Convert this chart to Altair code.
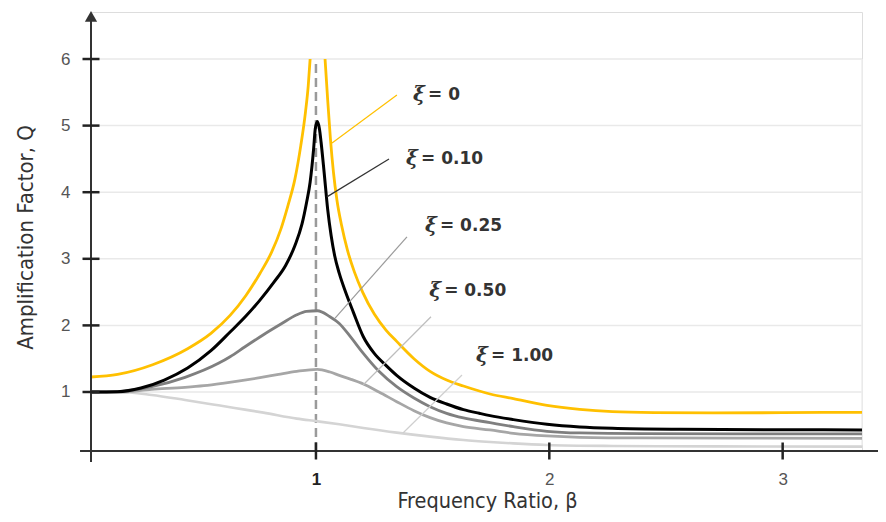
import altair as alt
import pandas as pd

# ---------------- scale limits (where the drawn axes sit) ----------------
X_MIN, X_MAX = 0.036, 3.34
Y_MIN, Y_MAX = 0.114, 6.706

# ---------------- data ----------------
series = ["ξ = 0", "ξ = 0.10", "ξ = 0.25", "ξ = 0.50", "ξ = 1.00"]
label_values = ["= 0", "= 0.10", "= 0.25", "= 0.50", "= 1.00"]

beta_xi0_left = [0.036, 0.15, 0.30, 0.45, 0.55, 0.632, 0.70, 0.76, 0.81, 0.85, 0.88, 0.91, 0.935, 0.955,
                 0.967, 0.975]
q_xi0_left = [1.225, 1.265, 1.41, 1.65, 1.88, 2.15, 2.45, 2.78, 3.1, 3.45, 3.8, 4.2, 4.7, 5.2,
              5.6, 6.0]
beta_xi0_right = [1.039, 1.05, 1.062, 1.075, 1.09, 1.11, 1.135, 1.165, 1.20, 1.25, 1.30, 1.346, 1.42,
                  1.489, 1.56, 1.632, 1.70, 1.746, 1.846, 1.99, 2.13, 2.27, 2.45, 2.7, 3.0, 3.34]
q_xi0_right = [6.0, 5.4, 4.8, 4.3, 3.88, 3.5, 3.13, 2.8, 2.5, 2.17, 1.93, 1.76, 1.50,
               1.31, 1.18, 1.09, 1.015, 0.97, 0.9, 0.8, 0.74, 0.705, 0.69, 0.685, 0.69, 0.695]

beta_xi010 = [0.036, 0.15, 0.25, 0.35, 0.45, 0.55, 0.632, 0.70, 0.76, 0.82, 0.87, 0.91, 0.94, 0.96,
              0.975, 0.99, 0.997, 1.006, 1.015, 1.022, 1.035, 1.05, 1.065, 1.08, 1.10, 1.125, 1.16,
              1.203, 1.25, 1.30, 1.346, 1.42, 1.489, 1.56, 1.632, 1.70, 1.746, 1.846, 1.99, 2.13,
              2.27, 2.56, 3.0, 3.34]
q_xi010 = [1.0, 1.005, 1.06, 1.18, 1.36, 1.62, 1.9, 2.14, 2.38, 2.65, 2.9, 3.2, 3.52, 3.85,
           4.15, 4.65, 4.95, 5.06, 4.95, 4.75, 4.3, 3.75, 3.35, 3.05, 2.78, 2.52, 2.2,
           1.83, 1.58, 1.40, 1.25, 1.06, 0.92, 0.82, 0.735, 0.68, 0.645, 0.585, 0.515, 0.475,
           0.455, 0.44, 0.433, 0.43]

beta_xi025 = [0.036, 0.153, 0.296, 0.439, 0.582, 0.632, 0.696, 0.775, 0.85, 0.918, 0.96, 1.006, 1.06, 1.10,
              1.15, 1.203, 1.27, 1.346, 1.42, 1.489, 1.56, 1.632, 1.746, 1.846, 1.99, 2.13, 2.4, 3.34]
q_xi025 = [1.0, 1.005, 1.08, 1.22, 1.43, 1.53, 1.68, 1.86, 2.02, 2.16, 2.21, 2.22, 2.13, 2.03,
           1.82, 1.58, 1.31, 1.08, 0.91, 0.78, 0.68, 0.61, 0.54, 0.48, 0.41, 0.385, 0.375, 0.37]

beta_xi050 = [0.036, 0.153, 0.296, 0.439, 0.52, 0.60, 0.68, 0.76, 0.84, 0.918, 1.006, 1.06, 1.10, 1.15,
              1.203, 1.27, 1.346, 1.42, 1.489, 1.56, 1.632, 1.746, 1.846, 1.99, 2.13, 2.4, 3.34]
q_xi050 = [1.0, 1.0, 1.04, 1.07, 1.095, 1.13, 1.17, 1.215, 1.265, 1.31, 1.34, 1.30, 1.25, 1.19,
           1.12, 1.0, 0.855, 0.72, 0.615, 0.535, 0.48, 0.43, 0.38, 0.34, 0.32, 0.31, 0.305]

beta_xi100 = [0.036, 0.153, 0.296, 0.439, 0.582, 0.696, 0.775, 0.918, 1.006, 1.10, 1.203, 1.346, 1.489,
              1.632, 1.746, 1.846, 1.99, 2.27, 2.7, 3.34]
q_xi100 = [1.0, 1.0, 0.955, 0.88, 0.80, 0.735, 0.69, 0.60, 0.56, 0.515, 0.46, 0.39, 0.33,
           0.28, 0.25, 0.228, 0.205, 0.19, 0.183, 0.18]

# annotation anchors (label position and leader line ends), in data units
label_beta = [1.416, 1.386, 1.467, 1.485, 1.686]
label_q = [5.46, 4.50, 3.50, 2.51, 1.54]
leader_beta1 = [1.347, 1.313, 1.390, 1.493, 1.626]
leader_q1 = [5.46, 4.50, 3.33, 2.13, 1.255]
leader_beta2 = [1.069, 1.047, 1.082, 1.202, 1.373]
leader_q2 = [4.74, 3.93, 2.11, 1.105, 0.385]

y_ticks = [1, 2, 3, 4, 5, 6]
x_ticks = [1, 2, 3]
resonance_beta = [1]

# ---------------- styles ----------------
curve_colors = ["#FFC000", "#000000", "#7f7f7f", "#a6a6a6", "#d4d4d4"]
leader_colors = ["#FFC000", "#333333", "#9a9a9a", "#bdbdbd", "#cfcfcf"]
TITLE_FONT = "DejaVu Sans Condensed, Liberation Sans Narrow, sans-serif"
LABEL_FONT = "Liberation Sans, Arial, sans-serif"

x_scale = alt.Scale(domain=[X_MIN, X_MAX], nice=False, zero=False)
y_scale = alt.Scale(domain=[Y_MIN, Y_MAX], nice=False, zero=False)

x_axis = alt.Axis(
    values=x_ticks, domain=False, ticks=False, tickSize=0, grid=False,
    labelPadding=20, labelFontSize=17, labelFont=LABEL_FONT,
    labelFontWeight=alt.condition("datum.value == 1", alt.value("bold"), alt.value("normal")),
    labelColor=alt.condition("datum.value == 1", alt.value("#222222"), alt.value("#555555")),
    title="Frequency Ratio, β", titleFont=TITLE_FONT, titleFontSize=21.5, titleFontWeight="normal",
    titleColor="#333333", titleX=396, titleY=50, titleAlign="center", titleBaseline="middle",
)
y_axis = alt.Axis(
    values=y_ticks, domain=False, ticks=False, tickSize=0, grid=False,
    labelPadding=21, labelFontSize=17, labelFont=LABEL_FONT, labelColor="#555555",
    title="Amplification Factor, Q", titleFont=TITLE_FONT, titleFontSize=22, titleFontWeight="normal",
    titleColor="#333333", titleX=-66, titleY=225, titleAngle=-90, titleAlign="center",
    titleBaseline="middle",
)


def X(field):
    return alt.X(field, type="quantitative", scale=x_scale, axis=x_axis)


def Y(field):
    return alt.Y(field, type="quantitative", scale=y_scale, axis=y_axis)


layers = []

# grid lines
grid_df = pd.DataFrame({"q": y_ticks, "b0": X_MIN, "b1": X_MAX})
layers.append(alt.Chart(grid_df).mark_rule(color="#e9e9e9", strokeWidth=1.5).encode(
    x=X("b0"), x2="b1", y=Y("q")))

# right frame line
frame_df = pd.DataFrame({"b": [X_MAX], "q0": [0.2], "q1": [6.0]})
layers.append(alt.Chart(frame_df).mark_rule(color="#eeeeee", strokeWidth=1.5).encode(
    x=X("b"), y=Y("q0"), y2="q1"))

# dashed resonance line
res_df = pd.DataFrame({"b": resonance_beta, "q0": [Y_MIN], "q1": [6.0]})
layers.append(alt.Chart(res_df).mark_rule(color="#9a9a9a", strokeWidth=2.5, strokeDash=[9, 5]).encode(
    x=X("b"), y=Y("q0"), y2="q1"))

# curves (drawn from lightest to yellow)
curve_sets = [
    (4, [(beta_xi100, q_xi100)], 2.6),
    (3, [(beta_xi050, q_xi050)], 2.8),
    (2, [(beta_xi025, q_xi025)], 2.8),
    (1, [(beta_xi010, q_xi010)], 3.0),
    (0, [(beta_xi0_left, q_xi0_left), (beta_xi0_right, q_xi0_right)], 2.8),
]
for idx, parts, sw in curve_sets:
    rows = []
    for seg, (bs, qs) in enumerate(parts):
        for i, (b, q) in enumerate(zip(bs, qs)):
            rows.append({"beta": b, "q": q, "seg": seg, "ord": i, "series": series[idx]})
    df = pd.DataFrame(rows)
    layers.append(alt.Chart(df).mark_line(color=curve_colors[idx], strokeWidth=sw,
                                          interpolate="monotone").encode(
        x=X("beta"), y=Y("q"), detail="seg:N", order="ord:Q"))

# leader lines
for i in range(5):
    ldf = pd.DataFrame({"b1": [leader_beta1[i]], "q1": [leader_q1[i]],
                        "b2": [leader_beta2[i]], "q2": [leader_q2[i]]})
    layers.append(alt.Chart(ldf).mark_rule(color=leader_colors[i], strokeWidth=1.2).encode(
        x=X("b1"), x2="b2", y=Y("q1"), y2="q2"))

# labels
lab_df = pd.DataFrame({"b": label_beta, "q": label_q, "val": label_values, "sym": ["ξ"] * 5})
layers.append(alt.Chart(lab_df).mark_text(align="left", baseline="middle", font="DejaVu Serif",
                                          fontStyle="italic", fontWeight="bold", fontSize=20,
                                          color="#333333").encode(
    x=X("b"), y=Y("q"), text="sym:N"))
layers.append(alt.Chart(lab_df).mark_text(align="left", baseline="middle", dx=15, font="DejaVu Sans",
                                          fontWeight="bold", fontSize=17, color="#333333").encode(
    x=X("b"), y=Y("q"), text="val:N"))

# axis lines
xaxis_df = pd.DataFrame({"b0": [-0.011], "b1": [3.44], "q": [Y_MIN]})
layers.append(alt.Chart(xaxis_df).mark_rule(color="#333333", strokeWidth=2).encode(
    x=X("b0"), x2="b1", y=Y("q")))
yaxis_df = pd.DataFrame({"b": [X_MIN], "q0": [-0.05], "q1": [6.58]})
layers.append(alt.Chart(yaxis_df).mark_rule(color="#333333", strokeWidth=2).encode(
    x=X("b"), y=Y("q0"), y2="q1"))
arrow_df = pd.DataFrame({"b": [X_MIN], "q": [6.64]})
layers.append(alt.Chart(arrow_df).mark_point(shape="triangle-up", filled=True, size=150, opacity=1,
                                             color="#333333").encode(x=X("b"), y=Y("q")))

# crossing ticks
ytick_df = pd.DataFrame({"b": [X_MIN] * len(y_ticks), "q": y_ticks})
layers.append(alt.Chart(ytick_df).mark_tick(orient="horizontal", size=17, thickness=2.5,
                                            color="#222222", opacity=1).encode(x=X("b"), y=Y("q")))
xtick_df = pd.DataFrame({"b": x_ticks, "q": [Y_MIN] * len(x_ticks)})
layers.append(alt.Chart(xtick_df).mark_tick(orient="vertical", size=17, thickness=2.5,
                                            color="#222222", opacity=1).encode(x=X("b"), y=Y("q")))

chart = alt.layer(*layers).properties(
    width=771, height=439,
    padding={"left": 83, "right": 16, "top": 4, "bottom": 63},
    autosize=alt.AutoSizeParams(type="none"),
).configure_view(stroke=None).configure(background="white")

chart.save("out.html", embed_options={"renderer": "svg", "actions": False})
